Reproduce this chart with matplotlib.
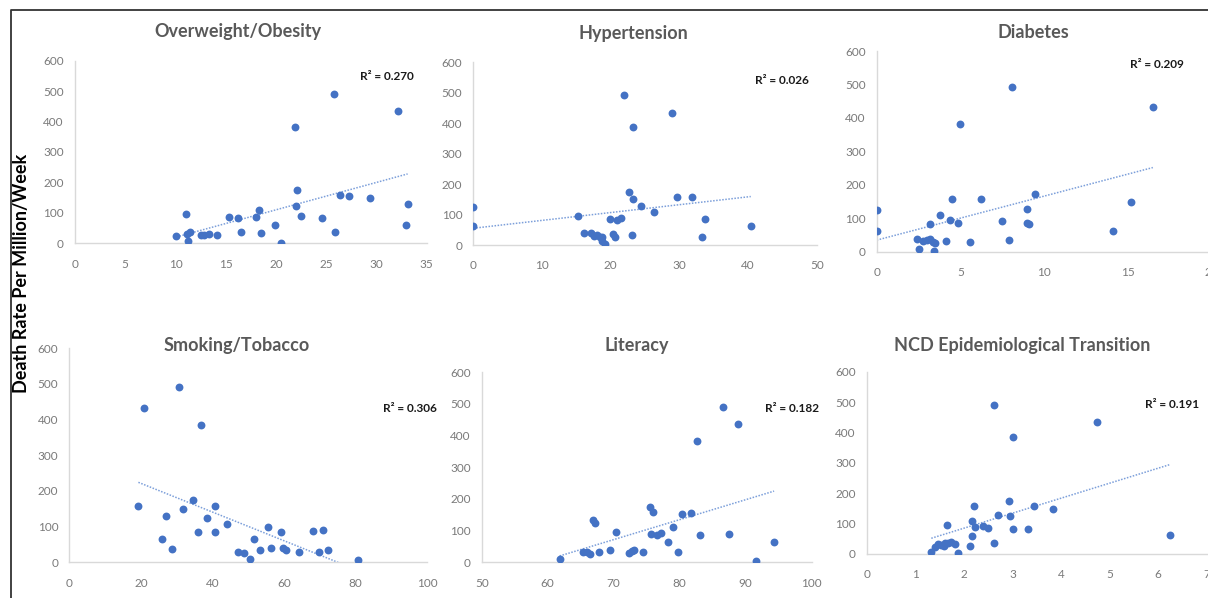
import numpy as np
import matplotlib
matplotlib.use("Agg")
import matplotlib.pyplot as plt
from matplotlib.lines import Line2D

plt.rcParams['font.family'] = ['Lato', 'DejaVu Sans']

# ---------------- data ----------------
titles = ["Overweight/Obesity", "Hypertension", "Diabetes",
          "Smoking/Tobacco", "Literacy", "NCD Epidemiological Transition"]
r2_labels = ["R² = 0.270", "R² = 0.026", "R² = 0.209",
             "R² = 0.306", "R² = 0.182", "R² = 0.191"]
y_label = "Death Rate Per Million/Week"

overweight_x = [10.1, 11.0, 11.1, 11.2, 11.4, 12.5, 12.8, 13.3, 14.1, 15.3, 16.2, 16.5,
                18.0, 18.3, 18.5, 19.9, 20.5, 21.9, 22.1, 22.0, 22.5, 24.6, 25.8, 25.9,
                26.4, 27.3, 29.4, 32.1, 32.9, 33.1]
overweight_y = [24, 96, 31, 8, 36, 26, 27, 31, 26, 87, 83, 37,
                85, 108, 33, 61, 2, 382, 174, 124, 90, 84, 491, 36,
                159, 157, 149, 434, 61, 128]

hypertension_x = [0, 0, 15.3, 16.1, 17.1, 17.6, 18.0, 18.4, 18.7, 18.8, 19.2, 19.9,
                  20.4, 20.7, 20.9, 21.5, 21.9, 22.7, 23.2, 23.3, 23.1, 24.4, 26.3,
                  29.0, 29.7, 31.8, 33.3, 33.8, 40.4]
hypertension_y = [125, 62, 96, 38, 38, 30, 33, 27, 25, 13, 3, 85,
                  35, 25, 82, 88, 493, 175, 386, 150, 34, 129, 110,
                  435, 159, 159, 27, 84, 62]

diabetes_x = [0, 0, 2.4, 2.5, 2.75, 3.0, 3.2, 3.2, 3.35, 3.5, 3.45, 4.15, 3.8, 4.4,
              4.5, 4.85, 4.95, 5.6, 6.25, 7.5, 7.9, 8.1, 9.0, 9.0, 9.1, 9.45, 14.1,
              15.2, 16.5]
diabetes_y = [124, 62, 37, 9, 31, 35, 83, 38, 30, 25, 3, 33, 109, 96,
              157, 86, 382, 28, 159, 91, 36, 491, 129, 87, 83, 172, 62,
              149, 434]

smoking_x = [19.3, 21.0, 26.0, 27.0, 28.6, 30.7, 31.8, 34.5, 36.0, 36.8, 38.5, 40.6,
             40.7, 44.0, 47.1, 48.8, 50.4, 51.7, 53.2, 55.5, 56.3, 59.1, 59.8, 60.4,
             64.2, 68.0, 69.7, 70.8, 72.4, 80.7]
smoking_y = [159, 434, 64, 131, 38, 492, 150, 175, 86, 384, 125, 158,
             85, 108, 30, 25, 10, 64, 35, 98, 39, 85, 40, 35,
             28, 88, 29, 91, 34, 6]

literacy_x = [61.8, 65.4, 66.0, 66.4, 66.9, 67.2, 67.8, 69.5, 70.4, 72.3, 72.7, 73.1,
              74.5, 75.5, 76.0, 75.6, 76.5, 77.1, 78.2, 79.0, 79.7, 80.3, 81.7, 82.6,
              83.1, 86.5, 87.5, 88.9, 91.6, 94.3]
literacy_y = [9, 34, 31, 26, 133, 125, 33, 39, 97, 28, 35, 40,
              33, 175, 160, 89, 87, 93, 64, 111, 31, 154, 157, 383,
              85, 492, 89, 436, 4, 63]

ncd_x = [1.33, 1.41, 1.46, 1.52, 1.59, 1.62, 1.66, 1.68, 1.74, 1.81, 1.87, 2.12,
         2.17, 2.17, 2.21, 2.22, 2.39, 2.50, 2.62, 2.63, 2.70, 2.93, 2.94, 3.02,
         3.02, 3.32, 3.45, 3.84, 4.75, 6.25]
ncd_y = [8, 24, 32, 30, 26, 35, 94, 37, 39, 34, 2, 26,
         109, 60, 157, 89, 91, 86, 35, 492, 129, 174, 124, 83,
         384, 83, 158, 148, 434, 61]

x_data = [overweight_x, hypertension_x, diabetes_x, smoking_x, literacy_x, ncd_x]
y_data = [overweight_y, hypertension_y, diabetes_y, smoking_y, literacy_y, ncd_y]

x_ticks = [[0, 5, 10, 15, 20, 25, 30, 35],
           [0, 10, 20, 30, 40, 50],
           [0, 5, 10, 15, 20],
           [0, 20, 40, 60, 80, 100],
           [50, 60, 70, 80, 90, 100],
           [0, 1, 2, 3, 4, 5, 6, 7]]
y_ticks = [0, 100, 200, 300, 400, 500, 600]

# ---------------- layout (pixels) ----------------
W, H = 1208, 598
# (x_left, x_right, y_bottom(value 0), y_top(value 600)) in pixels
boxes = [(75, 426.7, 243.3, 60.7),
         (473.3, 816.7, 245, 62.3),
         (876.7, 1211.4, 251.7, 51),
         (69.3, 427.3, 562.3, 348.3),
         (481.7, 811.7, 562.3, 372.3),
         (866.7, 1206.7, 554, 371.7)]
title_pos = [(238, 32), (633, 34), (1033, 33), (237, 345), (637, 345), (1022, 345)]
r2_pos = [(387, 77), (782, 81), (1157, 65), (410, 408), (792, 408), (1172, 404)]

fig = plt.figure(figsize=(W / 100, H / 100), dpi=100)
fig.patch.set_facecolor('white')

dot_color = '#4472C4'
trend_color = '#7C9FDA'
axis_color = '#D9D9D9'
tick_color = '#7a7a7a'
title_color = '#595959'

for i in range(6):
    xl, xr, yb, yt = boxes[i]
    ax = fig.add_axes([xl / W, 1 - yb / H, (xr - xl) / W, (yb - yt) / H])
    ax.set_facecolor('none')
    xs = np.array(x_data[i], dtype=float)
    ys = np.array(y_data[i], dtype=float)
    ax.scatter(xs, ys, s=32, color=dot_color, zorder=3, linewidths=0)
    k, b = np.polyfit(xs, ys, 1)
    xx = np.array([xs.min(), xs.max()])
    ax.plot(xx, k * xx + b, color=trend_color, lw=1.1, ls=(0, (1, 1)), zorder=2)
    ax.set_xlim(x_ticks[i][0], x_ticks[i][-1])
    ax.set_ylim(0, 600)
    ax.set_xticks(x_ticks[i])
    ax.set_yticks(y_ticks)
    ax.tick_params(length=0, labelsize=8.5, colors=tick_color)
    ax.tick_params(axis='x', pad=11)
    ax.tick_params(axis='y', pad=8)
    for s in ['top', 'right']:
        ax.spines[s].set_visible(False)
    for s in ['left', 'bottom']:
        ax.spines[s].set_color(axis_color)
        ax.spines[s].set_linewidth(1)

    tx, ty = title_pos[i]
    fig.text(tx / W, 1 - ty / H, titles[i], ha='center', va='center',
             fontsize=13, fontweight='bold', color=title_color)
    rx, ry = r2_pos[i]
    fig.text(rx / W, 1 - ry / H, r2_labels[i], ha='center', va='center',
             fontsize=8.5, fontweight='bold', color='#1a1a1a')

fig.text(22 / W, 1 - 273 / H, y_label, rotation=90, ha='center', va='center',
         fontsize=13, fontweight='bold', color='black')

# frame lines (top and left)
fig.add_artist(Line2D([11 / W, 11 / W, 1.0], [0.0, 1 - 10 / H, 1 - 10 / H],
                      transform=fig.transFigure, color='#333333', lw=1.3))

fig.savefig('out.png', dpi=100, facecolor='white')
